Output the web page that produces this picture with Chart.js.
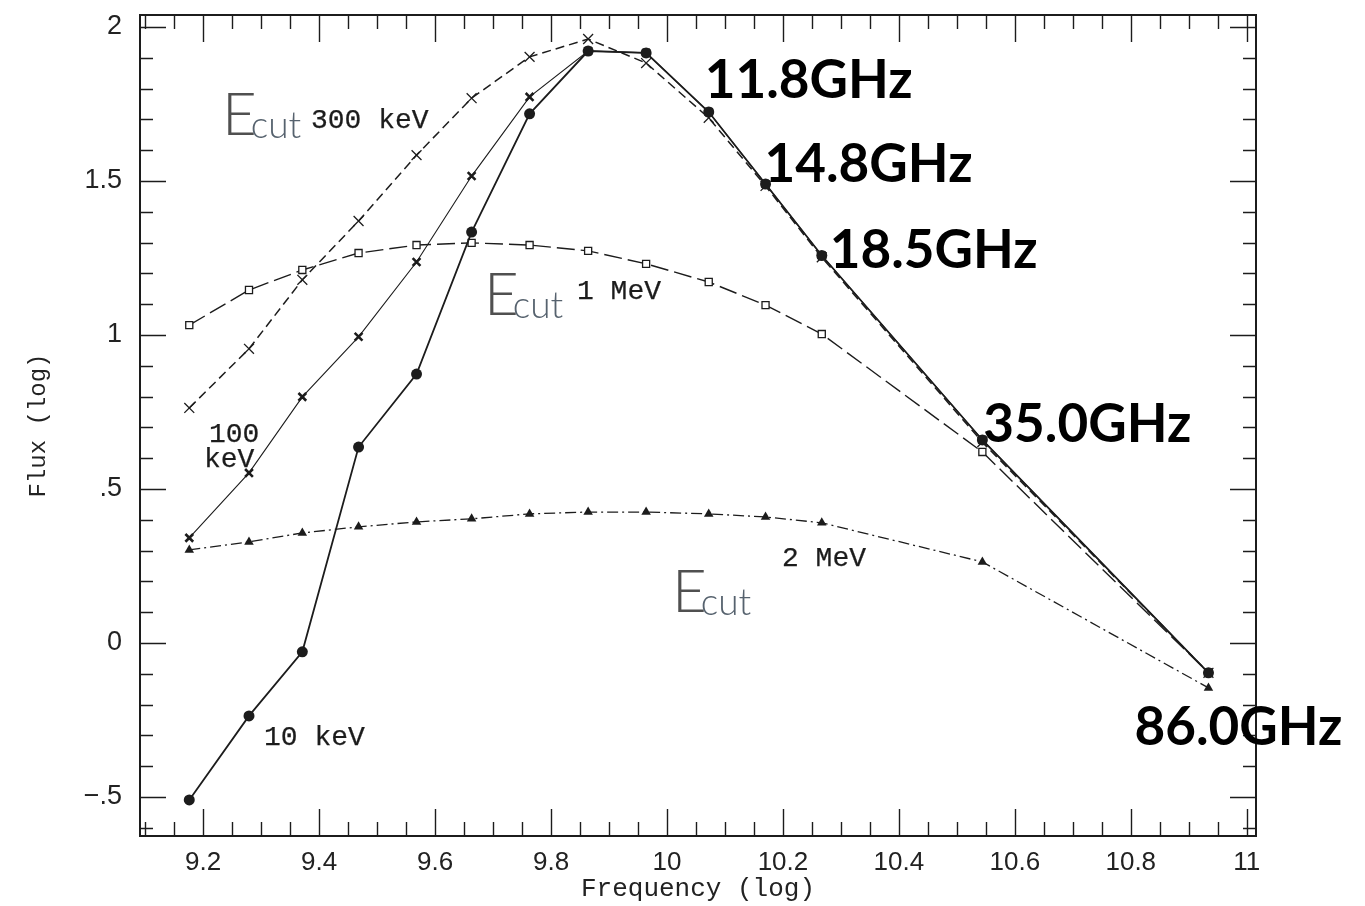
<!DOCTYPE html>
<html>
<head>
<meta charset="utf-8">
<script src="https://cdn.jsdelivr.net/npm/chart.js@4.4.1/dist/chart.umd.min.js"></script>
<style>
  html, body { margin: 0; padding: 0; background: #ffffff; }
  #wrap { width: 1365px; height: 906px; }
</style>
</head>
<body>
<div id="wrap"><canvas id="spectra" width="1365" height="906"></canvas></div>
<script>
// Observing frequencies, log10(Hz)
const freqLog = [9.176, 9.279, 9.371, 9.468, 9.568, 9.663, 9.763, 9.864, 9.964, 10.072, 10.170, 10.267, 10.544, 10.934];

// log flux for each cut-off energy
const flux10keV  = [-0.510, -0.237, -0.029, 0.636, 0.873, 1.334, 1.718, 1.922, 1.916, 1.724, 1.490, 1.258, 0.659, -0.097];
const flux100keV = [0.341, 0.552, 0.799, 0.994, 1.237, 1.516, 1.773, 1.922, 1.916, 1.724, 1.490, 1.258, 0.659, -0.097];
const flux300keV = [0.763, 0.955, 1.179, 1.370, 1.584, 1.769, 1.903, 1.961, 1.883, 1.705, 1.484, 1.252, 0.652, -0.097];
const flux1MeV   = [1.032, 1.146, 1.211, 1.266, 1.292, 1.299, 1.292, 1.273, 1.231, 1.172, 1.097, 1.003, 0.620, -0.097];
const flux2MeV   = [0.302, 0.328, 0.357, 0.377, 0.393, 0.403, 0.419, 0.425, 0.425, 0.419, 0.409, 0.390, 0.263, -0.146];

// Axis ticks
const xMajorTicks = [9.2, 9.4, 9.6, 9.8, 10, 10.2, 10.4, 10.6, 10.8, 11];
const xTickLabels = ['9.2', '9.4', '9.6', '9.8', '10', '10.2', '10.4', '10.6', '10.8', '11'];
const yMajorTicks = [-0.5, 0, 0.5, 1, 1.5, 2];
const yTickLabels = ['\u2212.5', '0', '.5', '1', '1.5', '2'];

// Frequency labels and the points they sit on
const ghzLabels = ['11.8GHz', '14.8GHz', '18.5GHz', '35.0GHz', '86.0GHz'];
const ghzPointIndex = [9, 10, 11, 12, 13];

const toXY = (ys) => freqLog.map((x, i) => ({ x: x, y: ys[i] }));

const MONO = '"Liberation Mono", "DejaVu Sans Mono", monospace';
const INK = '#1c1c1c';

// Inward ticks on all four sides plus the box
const frameTicks = {
  id: 'frameTicks',
  beforeDatasetsDraw(chart) {
    const { ctx, chartArea: a, scales: { x, y } } = chart;
    ctx.save();
    ctx.strokeStyle = INK;
    ctx.lineWidth = 1.4;
    ctx.beginPath();
    for (let k = 182; k <= 220; k++) {
      const v = k / 20;
      const major = k % 4 === 0;
      const len = major ? 27 : 14;
      const px = Math.round(x.getPixelForValue(v)) + 0.5;
      if (px < a.left + 2 || px > a.right - 2) continue;
      ctx.moveTo(px, a.bottom); ctx.lineTo(px, a.bottom - len);
      ctx.moveTo(px, a.top); ctx.lineTo(px, a.top + len);
    }
    for (let k = -6; k <= 20; k++) {
      const v = k / 10;
      const major = k % 5 === 0;
      const len = major ? 26 : 13;
      const py = Math.round(y.getPixelForValue(v)) + 0.5;
      if (py < a.top + 2 || py > a.bottom - 2) continue;
      ctx.moveTo(a.left, py); ctx.lineTo(a.left + len, py);
      ctx.moveTo(a.right, py); ctx.lineTo(a.right - len, py);
    }
    ctx.stroke();
    ctx.lineWidth = 2;
    ctx.strokeRect(a.left, a.top, a.right - a.left, a.bottom - a.top);
    ctx.restore();
  }
};

// Curve names, cut-off energy tags and frequency labels
const annotations = {
  id: 'annotations',
  afterDatasetsDraw(chart) {
    const { ctx } = chart;
    ctx.save();

    // energy names
    ctx.fillStyle = INK;
    ctx.strokeStyle = INK;
    ctx.lineWidth = 0.25;
    ctx.textAlign = 'left';
    ctx.textBaseline = 'alphabetic';
    ctx.font = '28px ' + MONO;
    const names = [
      ['300 keV', 311, 128],
      ['1 MeV', 577, 299],
      ['2 MeV', 782, 566],
      ['10 keV', 264, 745],
      ['100', 209, 442],
      ['keV', 204, 467]
    ];
    names.forEach(([t, tx, ty]) => { ctx.fillText(t, tx, ty); ctx.strokeText(t, tx, ty); });

    // E_cut tags
    const tags = [[222, 135], [484, 315], [672, 612]];
    tags.forEach(([tx, ty]) => {
      ctx.font = '300 60px Lato, "Open Sans", sans-serif';
      ctx.fillStyle = '#505050';
      ctx.fillText('E', tx, ty);
      const w = ctx.measureText('E').width;
      ctx.font = '300 37px Lato, "Open Sans", sans-serif';
      ctx.fillStyle = '#56626e';
      ctx.fillText('cut', tx + w - 6, ty + 3);
    });

    // frequency labels anchored on the 10 keV points
    const meta = chart.getDatasetMeta(0);
    const offsets = [[-4, -31], [-1, -19], [8, -5], [1, -15], [-74, 55]];
    ctx.font = 'bold 53px Lato, "Open Sans", sans-serif';
    ctx.fillStyle = '#000000';
    ctx.textBaseline = 'middle';
    ghzLabels.forEach((t, i) => {
      const p = meta.data[ghzPointIndex[i]];
      ctx.fillText(t, p.x + offsets[i][0], p.y + offsets[i][1]);
    });
    ctx.restore();
  }
};

new Chart(document.getElementById('spectra'), {
  type: 'scatter',
  data: {
    datasets: [
      {
        label: '10 keV',
        data: toXY(flux10keV),
        showLine: true,
        borderColor: INK,
        backgroundColor: INK,
        borderWidth: 1.8,
        pointStyle: 'circle',
        pointRadius: 5.5,
        pointBorderWidth: 0
      },
      {
        label: '100 keV',
        data: toXY(flux100keV),
        showLine: true,
        borderColor: INK,
        backgroundColor: INK,
        borderWidth: 1.1,
        pointStyle: 'crossRot',
        pointRadius: 5.5,
        pointBorderWidth: 2.6
      },
      {
        label: '300 keV',
        data: toXY(flux300keV),
        showLine: true,
        borderColor: INK,
        backgroundColor: INK,
        borderWidth: 1.5,
        borderDash: [9, 5],
        pointStyle: 'crossRot',
        pointRadius: 7,
        pointBorderWidth: 1.3
      },
      {
        label: '1 MeV',
        data: toXY(flux1MeV),
        showLine: true,
        borderColor: INK,
        backgroundColor: '#ffffff',
        borderWidth: 1.4,
        borderDash: [18, 6],
        pointStyle: 'rect',
        pointRadius: 5,
        pointBorderWidth: 1.3
      },
      {
        label: '2 MeV',
        data: toXY(flux2MeV),
        showLine: true,
        borderColor: INK,
        backgroundColor: INK,
        borderWidth: 1.3,
        borderDash: [11, 4, 2, 4],
        pointStyle: 'triangle',
        pointRadius: 5.5,
        pointBorderWidth: 0
      }
    ]
  },
  options: {
    responsive: false,
    animation: false,
    devicePixelRatio: 1,
    layout: { padding: { top: 15, right: 109, left: 0, bottom: 0 } },
    plugins: { legend: { display: false }, tooltip: { enabled: false } },
    scales: {
      x: {
        type: 'linear',
        min: 9.091,
        max: 11.016,
        grid: { display: false, drawTicks: false },
        border: { display: false },
        afterBuildTicks: (s) => { s.ticks = xMajorTicks.map(v => ({ value: v })); },
        afterFit: (s) => { s.height = 70; s.paddingLeft = 0; s.paddingRight = 0; },
        ticks: {
          padding: 11,
          maxRotation: 0,
          autoSkip: false,
          color: '#222',
          font: { family: '"Liberation Sans", Arial, sans-serif', size: 26 },
          callback: (v, i) => xTickLabels[i]
        },
        title: {
          display: true,
          text: 'Frequency (log)',
          color: '#222',
          font: { family: MONO, size: 26 },
          padding: { top: 0, bottom: 1 }
        }
      },
      y: {
        type: 'linear',
        min: -0.627,
        max: 2.039,
        grid: { display: false, drawTicks: false },
        border: { display: false },
        afterBuildTicks: (s) => { s.ticks = yMajorTicks.map(v => ({ value: v })); },
        afterFit: (s) => { s.width = 140; s.paddingTop = 0; s.paddingBottom = 0; },
        ticks: {
          padding: 18,
          autoSkip: false,
          color: '#222',
          font: { family: '"Liberation Sans", Arial, sans-serif', size: 27 },
          callback: (v, i) => yTickLabels[i]
        },
        title: {
          display: true,
          text: 'Flux (log)',
          color: '#222',
          font: { family: MONO, size: 24 },
          padding: { top: 24, bottom: 0 }
        }
      }
    }
  },
  plugins: [frameTicks, annotations]
});
</script>
</body>
</html>
